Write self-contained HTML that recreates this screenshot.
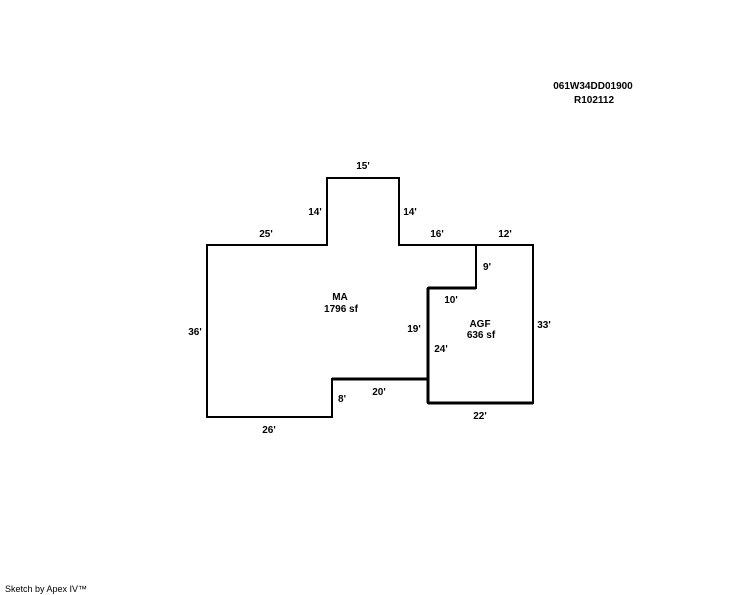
<!DOCTYPE html>
<html><head><style>
html,body{margin:0;padding:0;background:#fff;}
svg{display:block;}
text{font-family:"Liberation Sans",Arial,sans-serif;font-size:10px;font-weight:bold;fill:#000;}
</style></head><body>
<svg width="744" height="595" viewBox="0 0 744 595" xmlns="http://www.w3.org/2000/svg">
<g fill="none" stroke="#000" stroke-width="2" stroke-linecap="square">
<path d="M207,245 H327 V178 H399 V245 H533 V403 H428 V379 H332 V417 H207 Z"/>
<path d="M476,245 V288 H428 V379"/>
</g>
<g stroke="#000" stroke-width="3" fill="none">
<path d="M428,288 H476"/>
<path d="M332,379 H428"/>
<path d="M428,288 V403"/>
<path d="M428,403 H533"/>
</g>
<g text-anchor="middle">
<text x="593" y="89">061W34DD01900</text>
<text x="594" y="103">R102112</text>
<text x="363" y="169">15'</text>
<text x="315" y="215">14'</text>
<text x="410" y="215">14'</text>
<text x="266" y="237">25'</text>
<text x="437" y="237">16'</text>
<text x="505" y="237">12'</text>
<text x="487" y="270">9'</text>
<text x="451" y="303">10'</text>
<text x="340" y="300">MA</text>
<text x="341" y="312">1796 sf</text>
<text x="195" y="335">36'</text>
<text x="414" y="332">19'</text>
<text x="480" y="327">AGF</text>
<text x="481" y="338">636 sf</text>
<text x="544" y="328">33'</text>
<text x="441" y="352">24'</text>
<text x="379" y="395">20'</text>
<text x="342" y="402">8'</text>
<text x="480" y="419">22'</text>
<text x="269" y="433">26'</text>
</g>
<text x="5" y="592" style="font-weight:normal;font-size:9px">Sketch by Apex IV™</text>
</svg>
</body></html>
